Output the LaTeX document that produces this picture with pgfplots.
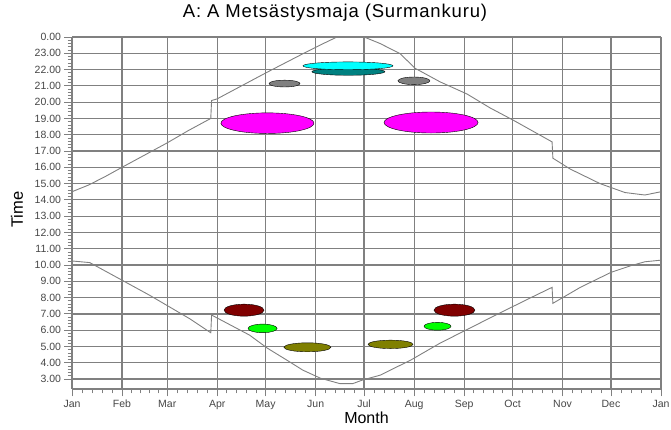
\documentclass[border=0pt]{standalone}
\usepackage{fontspec}
\setmainfont{Liberation Sans}
\newfontfamily\titlefont[LetterSpace=4.5]{Liberation Sans}
\usepackage{pgfplots}
\usepackage{pgfplotstable}
\pgfplotsset{compat=1.18}
\definecolor{gridgray}{RGB}{128,128,128}
\definecolor{curvegray}{RGB}{128,128,128}
\definecolor{tealc}{RGB}{0,128,128}
\definecolor{olivec}{RGB}{128,128,0}
\definecolor{maroonc}{RGB}{128,0,0}
\definecolor{limec}{RGB}{0,255,0}
\definecolor{cyanc}{RGB}{0,255,255}
\definecolor{magentac}{RGB}{255,0,255}
\definecolor{ticktext}{RGB}{70,70,70}

\pgfplotstableread{
day hour
0 14.5
10 14.9
20 15.4
31 16.0
45 16.75
59 17.5
72 18.25
86 19.0
86.5 20.1
89.9 20.2
120.2 21.8
141.3 22.88
153.7 23.5
164.2 24.0
171 24.3
181 24.0
190.9 23.6
203.3 22.98
212.6 22.08
228 21.25
244.8 20.5
259 19.65
273.3 18.9
297.5 17.56
298 16.56
308.6 15.9
327.2 15.0
342.7 14.45
355 14.3
365 14.5
}\sunset

\pgfplotstableread{
day hour
0 10.25
11 10.15
31 9.07
48 8.15
73 6.7
86 5.84
86.5 6.93
110 5.7
121 4.9
133 4.17
143 3.55
154 3.05
166 2.72
174 2.72
180 2.94
191 3.24
210 4.17
228 5.2
247 6.15
265 7.05
284 7.98
297.5 8.63
298 7.65
315 8.63
334 9.55
346 9.95
355 10.2
365 10.3
}\sunrise

\begin{document}
\begin{tikzpicture}
\useasboundingbox (0,0) rectangle (671pt,430pt);
\begin{axis}[
  at={(72pt,41pt)}, anchor=south west, scale only axis,
  width=589pt, height=352pt,
  xmin=0, xmax=365, ymin=2.39, ymax=24,
  axis on top,
  axis lines=left,
  axis line style={-, gridgray, line width=1.2pt},
  tick align=outside,
  xtick pos=bottom, ytick pos=left,
  major tick length=7.5pt, minor tick length=4.5pt,
  tick style={gridgray, line width=0.9pt},
  xtick={0,31,59,90,120,151,181,212,243,273,304,334,365},
  xticklabels={Jan,Feb,Mar,Apr,May,Jun,Jul,Aug,Sep,Oct,Nov,Dec,Jan},
  minor xtick={6.2,12.4,18.6,24.8,36.6,42.2,47.8,53.4,65.2,71.4,77.6,83.8,96,102,108,114,126.2,132.4,138.6,144.8,157,163,169,175,187.2,193.4,199.6,205.8,218.2,224.4,230.6,236.8,249,255,261,267,279.2,285.4,291.6,297.8,310,316,322,328,340.2,346.4,352.6,358.8},
  ytick={3,4,...,24},
  yticklabels={3.00,4.00,5.00,6.00,7.00,8.00,9.00,10.00,11.00,12.00,13.00,14.00,15.00,16.00,17.00,18.00,19.00,20.00,21.00,22.00,23.00,0.00},
  minor y tick num=4,
  grid=major,
  major grid style={gridgray, line width=1.2pt},
  ticklabel style={font=\fontsize{10.5}{12}\selectfont, text=ticktext},
  xlabel={Month}, ylabel={Time},
  xlabel style={font=\fontsize{16}{18}\selectfont, at={(axis description cs:0.5,-0.082)}, anchor=center},
  ylabel style={font=\fontsize{16.5}{18}\selectfont, at={(axis description cs:-0.0934,0.51)}, anchor=center},
  title={A: A Metsästysmaja (Surmankuru)},
  title style={font=\titlefont\fontsize{18.5}{20}\selectfont, at={(axis description cs:0.4465,1.052)}, anchor=center},
]
\addplot[curvegray, line width=0.9pt] table[x=day, y=hour] {\sunset};
\addplot[curvegray, line width=0.9pt] table[x=day, y=hour] {\sunrise};

\addplot[only marks, mark=*, mark size=1pt, mark options={xscale=36.5, yscale=3.6, fill=tealc, draw=none}] coordinates {(171.3,21.87)};
\addplot[only marks, mark=*, mark size=1pt, mark options={xscale=45, yscale=3.9, fill=cyanc, draw=none}] coordinates {(171.0,22.23)};
\addplot[only marks, mark=*, mark size=1pt, mark options={xscale=15.5, yscale=3.4, fill=gridgray, draw=none}] coordinates {(131.7,21.14)};
\addplot[only marks, mark=*, mark size=1pt, mark options={xscale=16, yscale=3.8, fill=gridgray, draw=none}] coordinates {(211.9,21.31)};
\addplot[only marks, mark=*, mark size=1pt, mark options={xscale=46.5, yscale=10.3, fill=magentac, draw=none}] coordinates {(121.1,18.71)};
\addplot[only marks, mark=*, mark size=1pt, mark options={xscale=47, yscale=10.5, fill=magentac, draw=none}] coordinates {(222.5,18.75)};
\addplot[only marks, mark=*, mark size=1pt, mark options={xscale=20, yscale=6, fill=maroonc, draw=none}] coordinates {(106.6,7.23)};
\addplot[only marks, mark=*, mark size=1pt, mark options={xscale=20.5, yscale=6, fill=maroonc, draw=none}] coordinates {(237.0,7.23)};
\addplot[only marks, mark=*, mark size=1pt, mark options={xscale=14.5, yscale=4.3, fill=limec, draw=none}] coordinates {(118.1,6.11)};
\addplot[only marks, mark=*, mark size=1pt, mark options={xscale=13.5, yscale=3.9, fill=limec, draw=none}] coordinates {(226.5,6.24)};
\addplot[only marks, mark=*, mark size=1pt, mark options={xscale=23.5, yscale=4.5, fill=olivec, draw=none}] coordinates {(145.9,4.95)};
\addplot[only marks, mark=*, mark size=1pt, mark options={xscale=22.5, yscale=4.2, fill=olivec, draw=none}] coordinates {(197.4,5.13)};
\end{axis}
\end{tikzpicture}
\end{document}
